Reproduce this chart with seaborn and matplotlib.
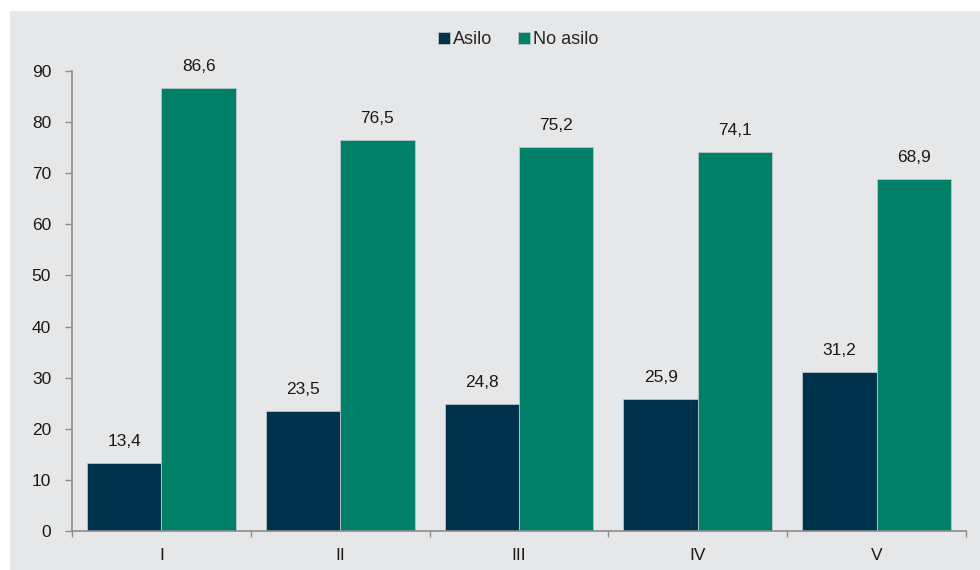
import matplotlib
matplotlib.use("Agg")
import matplotlib.pyplot as plt
from matplotlib.patches import Rectangle
from matplotlib.ticker import FixedLocator
import seaborn as sns
import pandas as pd

categories = ["I", "II", "III", "IV", "V"]
asilo = [13.4, 23.5, 24.8, 25.9, 31.2]
no_asilo = [86.6, 76.5, 75.2, 74.1, 68.9]
series_names = ["Asilo", "No asilo"]
y_ticks = [0, 10, 20, 30, 40, 50, 60, 70, 80, 90]

colors = ["#00324B", "#008066"]
bg = "#E6E7E9"

df = pd.DataFrame({
    "cat": categories * 2,
    "val": asilo + no_asilo,
    "serie": [series_names[0]] * len(categories) + [series_names[1]] * len(categories),
})

sns.set_theme(style="white")
plt.rcParams["font.family"] = ["Liberation Sans", "DejaVu Sans"]

fig = plt.figure(figsize=(9.8, 5.7), dpi=100)
fig.patch.set_facecolor("white")
fig.patches.append(Rectangle((10 / 980, 0), 1 - 10 / 980, 1 - 11 / 570,
                             transform=fig.transFigure, facecolor=bg,
                             edgecolor="none", zorder=-10))
ax = fig.add_axes([72 / 980, 1 - 531 / 570, (966 - 72) / 980, (531 - 71) / 570])
ax.set_facecolor(bg)
ax.patch.set_alpha(0)

sns.barplot(data=df, x="cat", y="val", hue="serie", palette=colors,
            saturation=1, width=0.833, ax=ax, edgecolor="#B8C4C8",
            linewidth=0.6, legend=True)

for cont in ax.containers:
    ax.bar_label(cont, labels=[f"{v:.1f}".replace(".", ",") for v in cont.datavalues],
                 padding=10, fontsize=12.5, color="#1a1a1a")

ax.set_xlim(-0.5, len(categories) - 0.5)
ax.set_ylim(0, 90)
ax.set_yticks(y_ticks)
ax.set_xlabel("")
ax.set_ylabel("")

for s in ["top", "right"]:
    ax.spines[s].set_visible(False)
for s in ["left", "bottom"]:
    ax.spines[s].set_color("#8C8C8C")
    ax.spines[s].set_linewidth(1.2)

ax.xaxis.set_minor_locator(FixedLocator([i - 0.5 for i in range(len(categories) + 1)]))
ax.tick_params(axis="x", which="major", length=0, pad=12, labelsize=12.5, colors="#1a1a1a")
ax.tick_params(axis="x", which="minor", bottom=True, length=4, width=1, color="#8C8C8C")
ax.tick_params(axis="y", left=True, length=5, width=1, color="#8C8C8C", pad=10,
               labelsize=12.5, labelcolor="#1a1a1a")

handles, labels = ax.get_legend_handles_labels()
ax.legend(handles, labels, loc="center", bbox_to_anchor=(0.529, (570 - 40) / 570),
          bbox_transform=fig.transFigure, ncol=2, frameon=False, fontsize=13,
          handlelength=0.65, handleheight=0.65, handletextpad=0.2, columnspacing=1.4)

fig.savefig("out.png", dpi=100, facecolor="white")
